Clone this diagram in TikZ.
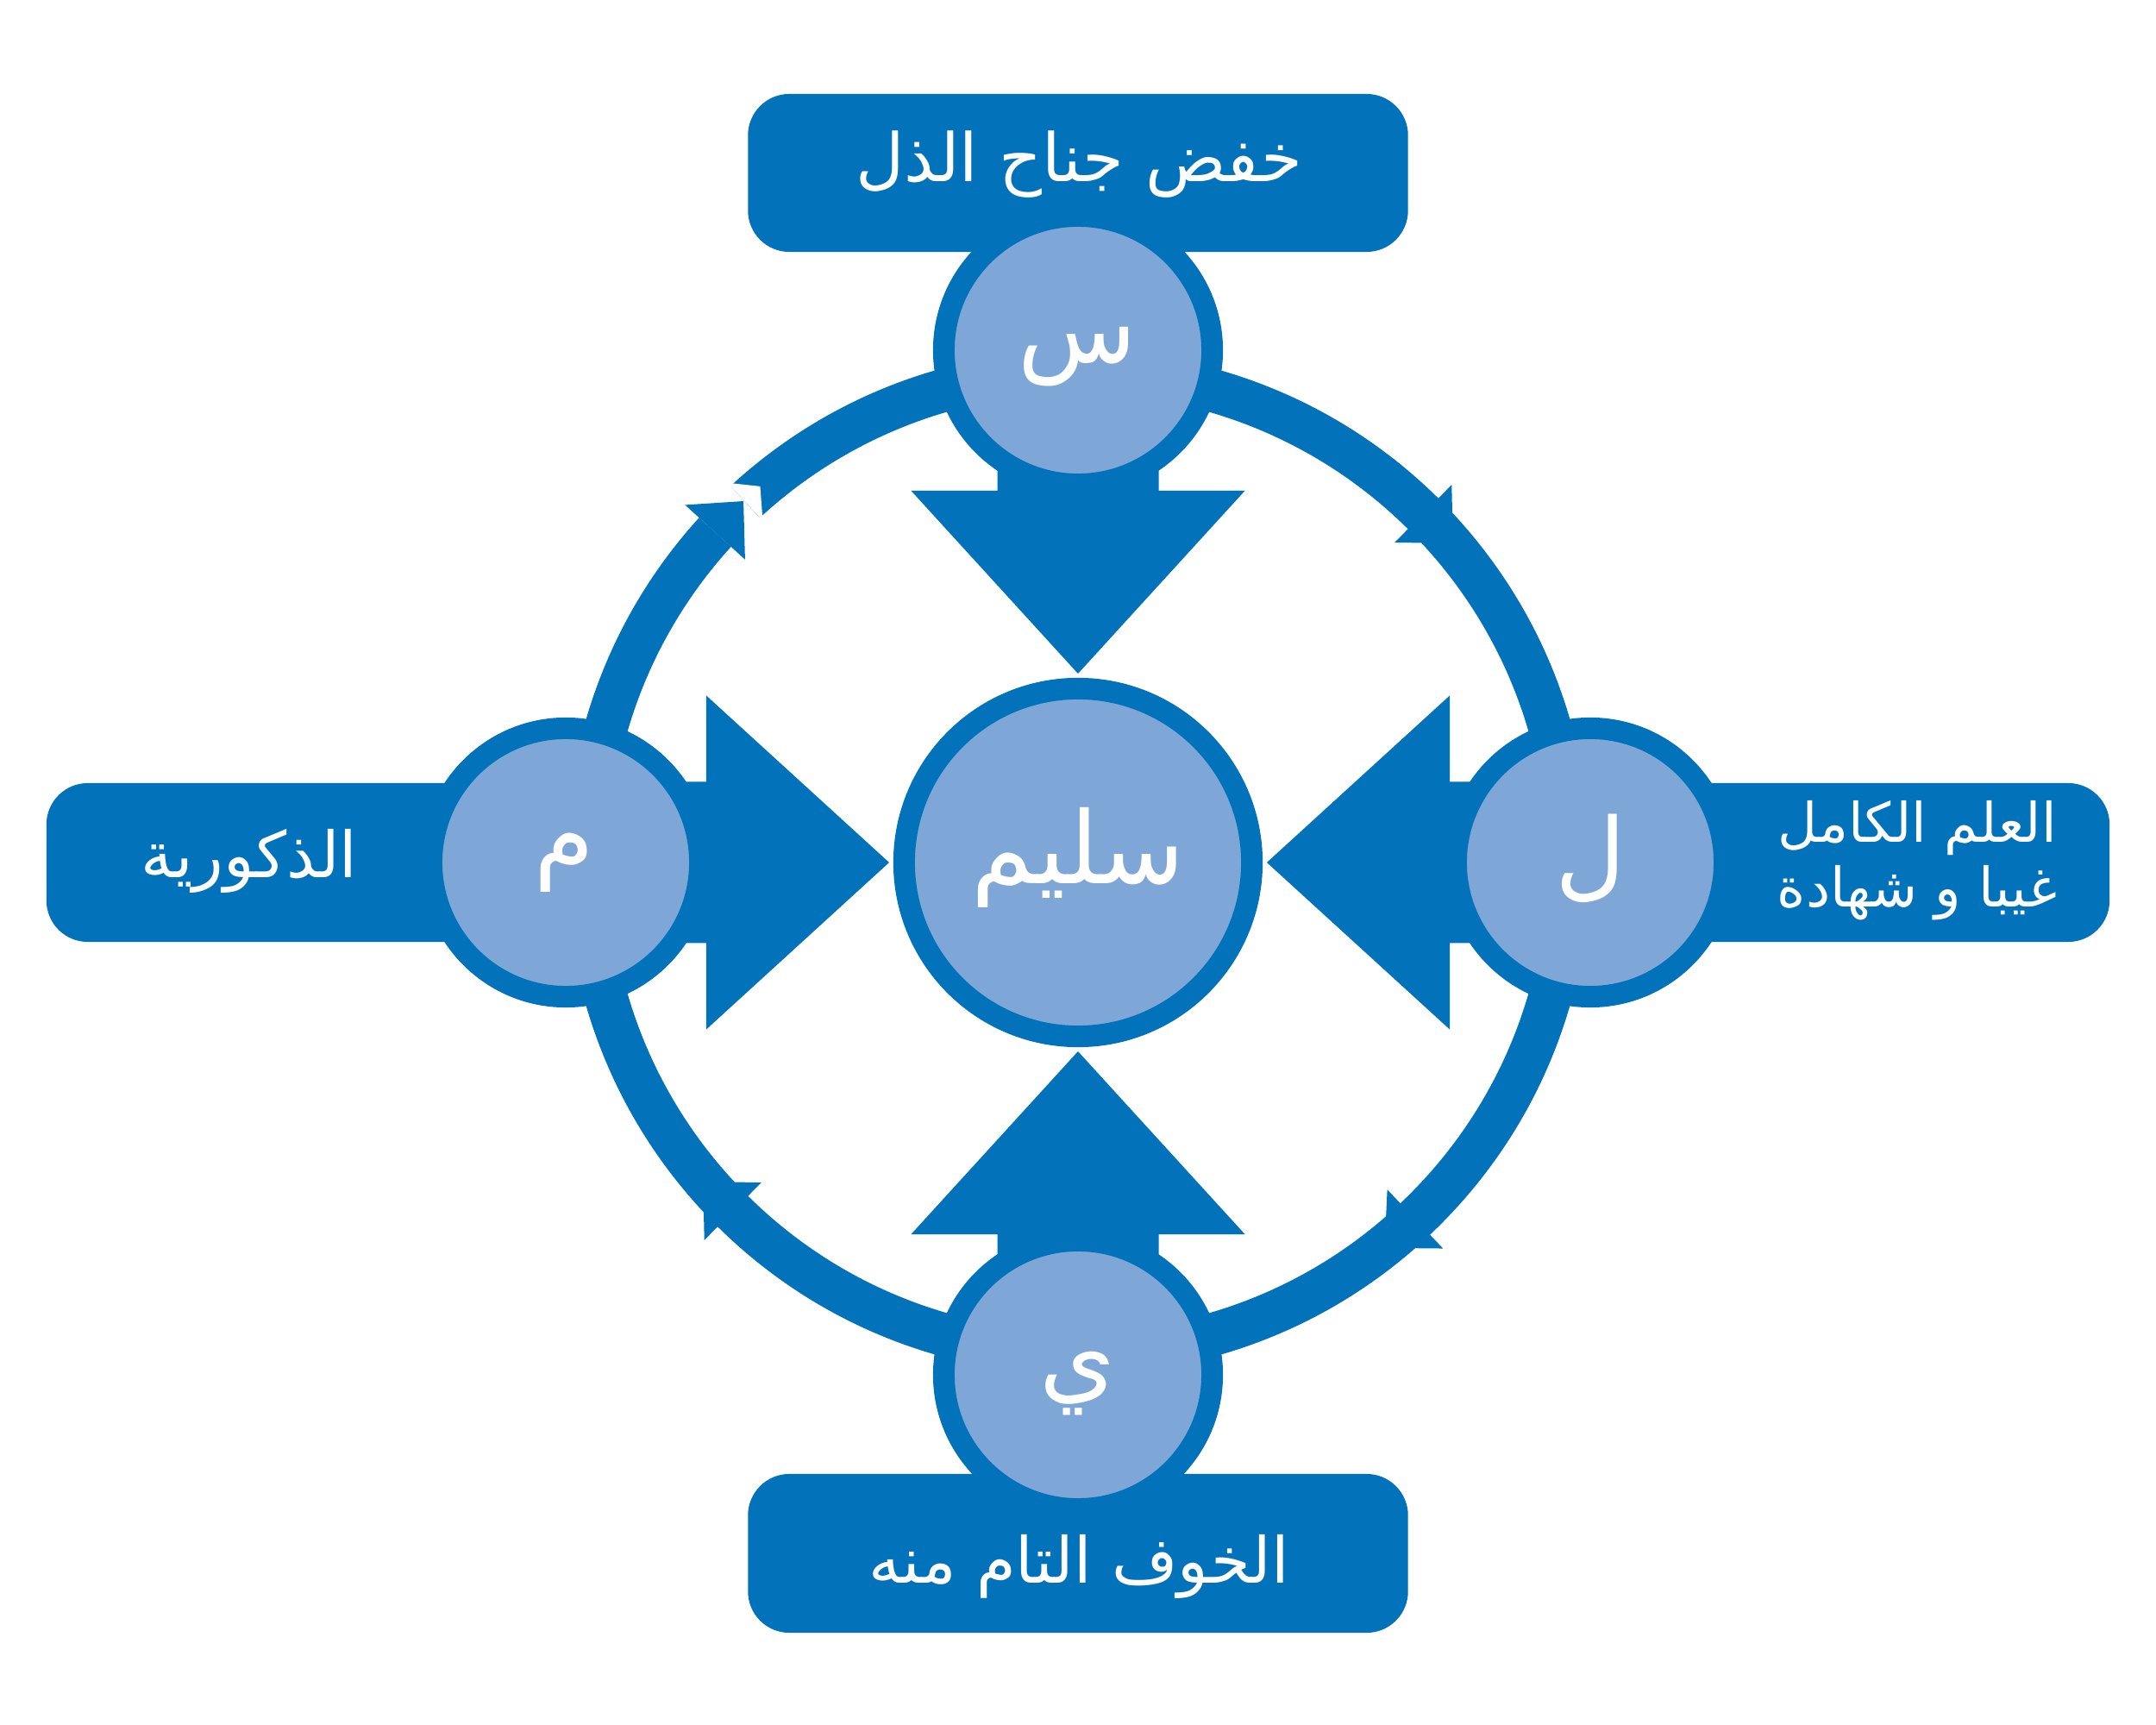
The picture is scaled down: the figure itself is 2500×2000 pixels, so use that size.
\documentclass[tikz,border=0pt]{standalone}
\usepackage{fontspec}
\newfontfamily\arfont[Script=Arabic]{DejaVu Sans}
\TeXXeTstate=1
\definecolor{dblue}{RGB}{2,114,187}
\definecolor{lblue}{RGB}{126,167,216}
\begin{document}
\begin{tikzpicture}[x=0.01cm,y=0.01cm,
  boxnode/.style={fill=dblue, draw=none, rounded corners=0.48cm, inner sep=0pt, outer sep=0pt},
  smallc/.style={circle, fill=lblue, draw=dblue, line width=0.25cm, minimum size=3.11cm, inner sep=0pt},
  bigc/.style={circle, fill=lblue, draw=dblue, line width=0.25cm, minimum size=4.03cm, inner sep=0pt},
  ringline/.style={draw=dblue, line width=0.5cm},
  wtext/.style={text=white, inner sep=0pt, align=center},
  boxfont/.style={font=\arfont\fontsize{21}{26}\selectfont},
  topfont/.style={font=\arfont\fontsize{22}{26}\selectfont},
  sidefont/.style={font=\arfont\fontsize{18}{21.3}\selectfont},
  letterfont/.style={font=\arfont\fontsize{32}{36}\selectfont},
  centerfont/.style={font=\arfont\fontsize{33}{38}\selectfont}]
\useasboundingbox (-1250,-1000) rectangle (1250,1000);

% boxes
\node[boxnode, minimum width=7.65cm, minimum height=1.83cm] (bTop) at (0,799.5) {};
\node[boxnode, minimum width=7.65cm, minimum height=1.84cm] (bBot) at (0,-801) {};
\node[boxnode, minimum width=5.96cm, minimum height=1.84cm] (bLeft) at (-898,0) {};
\node[boxnode, minimum width=5.96cm, minimum height=1.84cm] (bRight) at (898,0) {};

% ring with arrowheads (clockwise)
\draw[ringline] (132.7:569) arc[start angle=132.7, end angle=-222.3, radius=569];
\fill[white] (132.7:599) -- (130.2:571) -- (132.7:539) -- cycle;
\foreach \b in {137.7,45.3,-46.6,225.3}
  \fill[dblue] (\b:616) -- ({\b-4.9}:571) -- (\b:522) -- cycle;

% inward arrows
\foreach \a in {0,90,180,270}
  \fill[dblue, rotate=\a] (-93.5,470) -- (-93.5,431) -- (-193.5,431) -- (0,219)
        -- (193.5,431) -- (93.5,431) -- (93.5,470) -- cycle;

% circles
\node[smallc] (cS) at (0,594) {};
\node[smallc] (cL) at (594,0) {};
\node[smallc] (cY) at (0,-594) {};
\node[smallc] (cM) at (-594,0) {};
\node[bigc] (cC) at (0,0) {};

% texts
\node[wtext, topfont] (tTop) at (1,809) {\beginR خفض جناح الذل\endR};
\node[wtext, boxfont] (tBot) at (1,-816) {\beginR الخوف التام منه\endR};
\node[wtext, boxfont] (tLeft) at (-961,2) {\beginR الذكورية\endR};
\node[wtext, sidefont] (tRight) at (973,2) {\beginR العلم الكامل\endR\\\beginR غيبا و شهادة\endR};
\node[wtext, centerfont] (tC) at (0,6) {\beginR سليم\endR};
\node[wtext, letterfont] (tS) at (-1,586) {\beginR س\endR};
\node[wtext, letterfont] (tL) at (594,4.5) {\beginR ل\endR};
\node[wtext, letterfont] (tY) at (0,-604.5) {\beginR ي\endR};
\node[wtext, letterfont] (tM) at (-596,0) {\beginR م\endR};
\end{tikzpicture}
\end{document}
